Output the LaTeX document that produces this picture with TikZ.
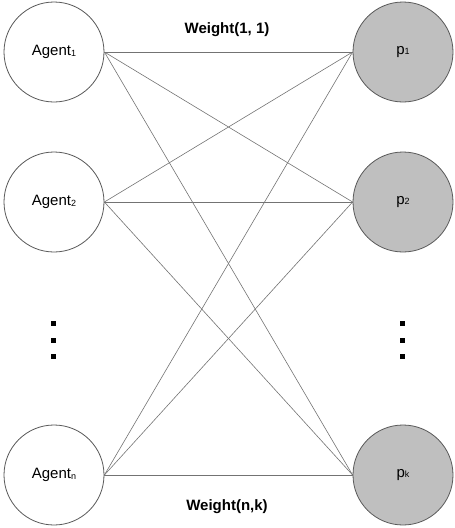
\documentclass[tikz,border=0pt]{standalone}
\usepackage{fontspec}
\setmainfont{Liberation Sans}
\newcommand{\smallidx}[1]{\raisebox{-0.5pt}{\fontsize{9}{9}\selectfont #1}}
\begin{document}
\begin{tikzpicture}[x=1pt,y=-1pt,
  agent/.style={circle,draw=black!65,line width=0.8pt,fill=white,minimum size=100pt,inner sep=0pt,font=\fontsize{15}{15}\selectfont},
  res/.style={agent,fill=black!25},
  edge/.style={draw=black!55,line width=0.6pt},
  lbl/.style={font=\fontsize{15}{15}\selectfont\bfseries},
  dotsq/.style={fill=black,minimum size=5pt,inner sep=0pt,draw=none,rectangle}]
\useasboundingbox (0,0) rectangle (455,528);
\node[agent] (a1) at (54,52) {Agent\smallidx{1}};
\node[agent] (a2) at (54,202) {Agent\smallidx{2}};
\node[agent] (an) at (54,475) {Agent\smallidx{n}};
\node[res] (p1) at (403,52) {p\smallidx{1}};
\node[res] (p2) at (403,202) {p\smallidx{2}};
\node[res] (pk) at (403,475) {p\smallidx{k}};
\foreach \a in {a1,a2,an}{
  \foreach \p in {p1,p2,pk}{
    \draw[edge] (\a.east) -- (\p.west);
  }
}
\node[lbl] (w11) at (227,30) {Weight(1, 1)};
\node[lbl] (wnk) at (227,507) {Weight(n,k)};
\node[dotsq] (l1) at (53,323) {};
\node[dotsq] (l2) at (53,340) {};
\node[dotsq] (l3) at (53,356) {};
\node[dotsq] (r1) at (402,323) {};
\node[dotsq] (r2) at (402,340) {};
\node[dotsq] (r3) at (402,356) {};
\end{tikzpicture}
\end{document}
